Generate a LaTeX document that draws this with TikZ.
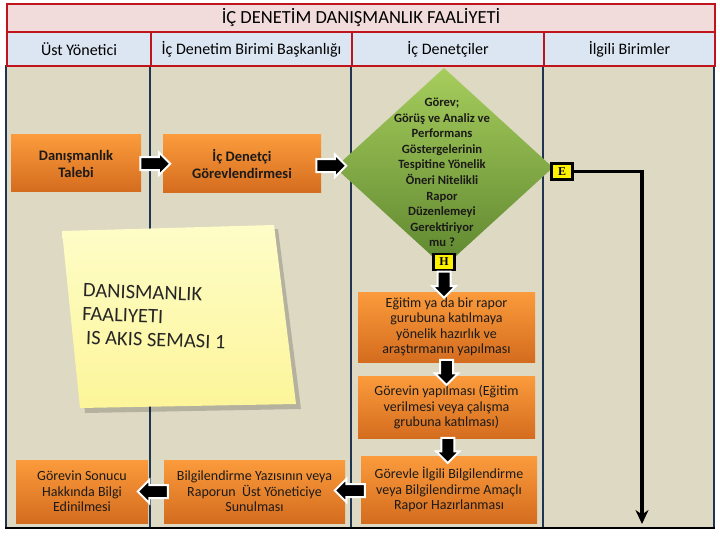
\documentclass[tikz,border=0pt]{standalone}
\usepackage{fontspec}
\setmainfont{Carlito}
\newfontfamily\tagfont{Liberation Serif}
\usepackage{tikz}
\usetikzlibrary{calc}
\usetikzlibrary{positioning}
\usetikzlibrary{shapes.geometric}
\usetikzlibrary{shapes.arrows}
\usetikzlibrary{arrows.meta}

\definecolor{framered}{HTML}{C0141C}
\definecolor{titlepink}{HTML}{F2DCDB}
\definecolor{hdrblue}{HTML}{DCE6F2}
\definecolor{lanebg}{HTML}{DDD9C3}
\definecolor{lanenavy}{HTML}{1F3552}
\definecolor{orangetop}{HTML}{FB9B3C}
\definecolor{orangebot}{HTML}{D46C1E}
\definecolor{greentop}{HTML}{A6CD5C}
\definecolor{greenbot}{HTML}{5E862F}
\definecolor{notetop}{HTML}{FEFDC8}
\definecolor{notebot}{HTML}{FCF59A}
\definecolor{boxtext}{HTML}{1C1A18}

\begin{document}
\begin{tikzpicture}[
		x=1pt, y=-1pt,
		every node/.style={font=\fontsize{14}{15.5}\selectfont},
		titlecell/.style={draw=framered, line width=2pt, fill=titlepink, anchor=north west,
			minimum width=708pt, minimum height=28pt, font=\fontsize{18.5}{18.5}\selectfont},
		hdrcell/.style={draw=framered, line width=2pt, fill=hdrblue, anchor=north west,
			minimum height=34pt, font=\fontsize{16}{16}\selectfont},
		laneline/.style={draw=lanenavy, line width=2.6pt},
		procbox/.style={rectangle, top color=orangetop, bottom color=orangebot, text=boxtext,
			align=center, inner sep=2pt},
		boldbox/.style={procbox, font=\bfseries\fontsize{14.5}{17}\selectfont},
		decision/.style={diamond, top color=greentop, bottom color=greenbot, inner sep=0pt,
			minimum width=218pt, minimum height=199pt},
		dectext/.style={align=center, text=boxtext, font=\bfseries\fontsize{12.6}{15.6}\selectfont},
		blockarrow/.style={single arrow, fill=black, draw=white, line width=2pt, inner sep=5.5pt,
			single arrow head extend=5pt, minimum height=30pt},
		tagbox/.style={draw=black, line width=2.2pt, fill=yellow, inner sep=1pt,
			minimum width=21pt, minimum height=16pt, font=\tagfont\bfseries\fontsize{12}{12}\selectfont},
		flowline/.style={draw=black, line width=3.4pt},
		notetext/.style={align=left, anchor=north west, text=black!85,
			font=\fontsize{20.5}{23.5}\selectfont}
	]

	\useasboundingbox (0,0) rectangle (720,540);
	\fill[white] (0,0) rectangle (720,540);

	% Swim lanes
	\fill[lanebg] (6,65) rectangle (714,528);
	\foreach \x in {6,150,351,543,714}
		\draw[laneline] (\x,65) -- (\x,528);
	\draw[black, line width=2.6pt] (5,528) -- (715,528);

	% Title and lane headers
	\node[titlecell] (title) at (6,3) {İÇ DENETİM DANIŞMANLIK FAALİYETİ};
	\node[hdrcell, minimum width=144pt] (hust) at (6,31) {Üst Yönetici};
	\node[hdrcell, minimum width=201pt] (hbaskan) at (150,31) {İç Denetim Birimi Başkanlığı};
	\node[hdrcell, minimum width=192pt] (hdenetci) at (351,31) {İç Denetçiler};
	\node[hdrcell, minimum width=171pt] (hbirim) at (543,31) {İlgili Birimler};

	% Sticky note
	\fill[black, opacity=0.18] (66,235) -- (278,229) -- (301,409) -- (85,413) -- cycle;
	\shade[top color=notetop, bottom color=notebot] (62,231) -- (274,225) -- (296,404) -- (80,408) -- cycle;
	\node[notetext, rotate=-2] (notetxt) at (80,280) {DANISMANLIK\\FAALIYETI\\\ IS AKIS SEMASI 1};

	% Process boxes
	\node[boldbox, minimum width=130pt, minimum height=57pt] (talep) at (76,163.5) {Danışmanlık\\Talebi};
	\node[boldbox, minimum width=158pt, minimum height=58pt] (gorevlendir) at (242,164) {İç Denetçi\\Görevlendirmesi};
	\node[decision] (karar) at (444,167.5) {};
	\node[dectext] (karartxt) at ($(karar.center)+(-2,5)$) {Görev;\\Görüş ve Analiz ve\\Performans\\Göstergelerinin\\Tespitine Yönelik\\Öneri Nitelikli\\Rapor\\Düzenlemeyi\\Gerektiriyor\\mu ?};
	\node[tagbox] (etag) at (562,171.5) {E};
	\node[tagbox] (htag) at (444,262) {H};

	\node[procbox, minimum width=177pt, minimum height=70pt] (egitim) at (446.5,327)
		{Eğitim ya da bir rapor\\gurubuna katılmaya\\yönelik hazırlık ve\\araştırmanın yapılması};
	\node[procbox, minimum width=177pt, minimum height=62pt, below=14pt of egitim] (yapilma)
		{Görevin yapılması (Eğitim\\verilmesi veya çalışma\\grubuna katılması)};
	\node[procbox, minimum width=176pt, minimum height=67pt] (rapor) at (449,489.5)
		{Görevle İlgili Bilgilendirme\\veya Bilgilendirme Amaçlı\\Rapor Hazırlanması};
	\node[procbox, minimum width=181pt, minimum height=63pt] (sunum) at (254.5,491.5)
		{Bilgilendirme Yazısının veya\\Raporun \ Üst Yöneticiye\\Sunulması};
	\node[procbox, minimum width=132pt, minimum height=63pt] (sonuc) at (82,491.5)
		{Görevin Sonucu\\Hakkında Bilgi\\Edinilmesi};

	% Block arrows
	\node[blockarrow] (ok1) at ($(talep.east)!0.5!(gorevlendir.west)$) {};
	\node[blockarrow] (ok2) at ($(gorevlendir.east)!0.5!(karar.west)$) {};
	\node[blockarrow, shape border rotate=270, minimum height=26pt] (ok3)
		at ($(htag.south)!0.5!(htag.south |- egitim.north)$) {};
	\node[blockarrow, shape border rotate=270, minimum height=25pt] (ok4)
		at ($(egitim.south)!0.5!(yapilma.north)$) {};
	\node[blockarrow, shape border rotate=270, minimum height=25pt] (ok5)
		at ($(yapilma.south)!0.5!(rapor.north)$) {};
	\node[blockarrow, shape border rotate=180] (ok6) at ($(rapor.west)!0.5!(sunum.east)$) {};
	\node[blockarrow, shape border rotate=180] (ok7) at ($(sunum.west)!0.5!(sonuc.east)$) {};

	% Evet branch
	\coordinate (evetson) at (642,524);
	\draw[flowline, -{Stealth[length=14pt, width=13pt]}] (etag.east) -| (evetson);

\end{tikzpicture}
\end{document}
